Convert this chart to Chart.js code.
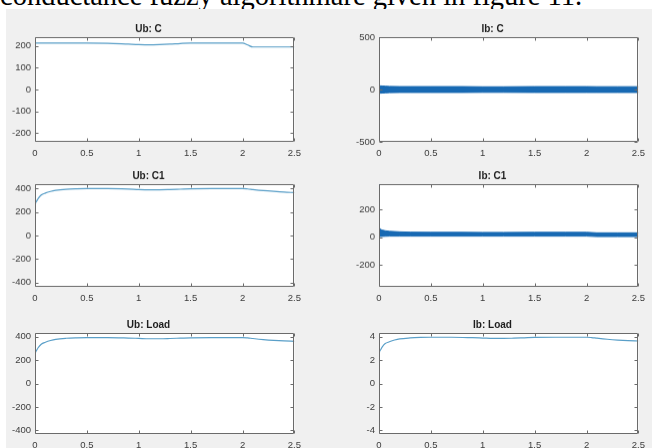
<!DOCTYPE html>
<html>
<head>
<meta charset="utf-8">
<script src="https://cdn.jsdelivr.net/npm/chart.js@4/dist/chart.umd.min.js"></script>
<style>
  html, body { margin: 0; padding: 0; width: 652px; height: 448px; overflow: hidden; background: #ffffff; position: relative; }
  #caption { position: absolute; left: 0px; top: -19px; font: 28.5px "Liberation Serif", "Times New Roman", serif; line-height: 30px; white-space: nowrap; color: #000; }
  #fig { position: absolute; left: 6px; top: 9px; width: 646px; height: 439px; background: #f0f0f0; }
  canvas { position: absolute; }
</style>
</head>
<body>
<div id="caption">conductance fuzzy algorithmare given in figure 11.</div>
<div id="fig"></div>
<canvas id="c0"></canvas><canvas id="c1"></canvas>
<canvas id="c2"></canvas><canvas id="c3"></canvas>
<canvas id="c4"></canvas><canvas id="c5"></canvas>
<script>
// ---------- data ----------
const titles = ['Ub: C', 'Ib: C', 'Ub: C1', 'Ib: C1', 'Ub: Load', 'Ib: Load'];
const xTicks = [0, 0.5, 1, 1.5, 2, 2.5];
const xTickLabels = ['0', '0.5', '1', '1.5', '2', '2.5'];

// time points for the smooth traces
const tU = [0, 0.003, 0.01, 0.03, 0.06, 0.1, 0.15, 0.2, 0.3, 0.4, 0.5, 0.7, 0.9, 1.0, 1.1, 1.2, 1.3, 1.4, 1.5, 1.7, 1.9, 2.0, 2.05, 2.1, 2.2, 2.3, 2.4, 2.5];
const ubC    = [0, 213, 213, 213, 213, 213, 213, 213, 213, 213, 213, 212, 208, 206, 205, 206, 208, 211, 213, 213, 213, 213, 204, 195, 195, 195, 195, 195];
const ubC1   = [0, 255, 285, 315, 345, 362, 376, 385, 394, 398, 400, 400, 396, 392, 390, 390, 392, 395, 398, 400, 400, 400, 397, 392, 383, 376, 370, 366];
const ubLoad = [0, 245, 275, 305, 335, 352, 367, 377, 386, 390, 392, 392, 388, 385, 382, 382, 384, 387, 390, 392, 392, 392, 389, 384, 375, 368, 363, 360];
const ibLoad = [0, 2.5, 2.8, 3.1, 3.4, 3.55, 3.7, 3.8, 3.88, 3.92, 3.94, 3.94, 3.9, 3.87, 3.84, 3.84, 3.86, 3.89, 3.92, 3.94, 3.94, 3.94, 3.91, 3.86, 3.77, 3.7, 3.65, 3.62];

// time points for the oscillating currents (drawn as envelope bands)
const tB = [0, 0.002, 0.006, 0.012, 0.03, 0.06, 0.1, 0.2, 0.3, 0.5, 0.8, 1.0, 1.2, 1.5, 1.8, 2.0, 2.1, 2.3, 2.5];
const ibCUpper  = [500, 60, 36, 35, 34, 32, 30, 28, 28, 28, 28, 26, 26, 28, 28, 28, 27, 27, 27];
const ibCLower  = [0, -34, -35, -35, -34, -32, -30, -28, -28, -28, -28, -27, -27, -28, -28, -28, -28, -28, -28];
const ibC1Upper = [385, 150, 70, 58, 52, 47, 43, 39, 37, 36, 36, 35, 35, 36, 36, 36, 32, 32, 32];
const ibC1Lower = [0, 0, 2, 5, 6, 7, 8, 8, 8, 8, 8, 8, 8, 8, 8, 8, 5, 5, 5];

// axis limits and tick values
const yLimits = [[-240, 240], [-500, 500], [-438, 438], [-360, 385], [-431, 431], [-4.3, 4.3]];
const yTicks = [
  [-200, -100, 0, 100, 200],
  [-500, 0, 500],
  [-400, -200, 0, 200, 400],
  [-200, 0, 200],
  [-400, -200, 0, 200, 400],
  [-4, -2, 0, 2, 4]
];

// ---------- layout ----------
const plotLeft = [35, 379];
const plotW = 262;
const rows = [[37.3, 141.7], [184.3, 286.7], [333.3, 434.3]];
const yAxisW = 35, titleH = 15, xAxisH = 18, rightPad = 10;

const lineColor = '#5a9fc8';
const bandColor = '#1769b3';

function pts(t, v) { return t.map((x, i) => ({ x: x, y: v[i] })); }

const framePlugin = {
  id: 'frame',
  beforeDraw(chart) {
    const a = chart.chartArea, ctx = chart.ctx;
    ctx.save();
    ctx.fillStyle = '#ffffff';
    ctx.fillRect(a.left, a.top, a.right - a.left, a.bottom - a.top);
    ctx.restore();
  },
  afterDraw(chart) {
    const a = chart.chartArea, ctx = chart.ctx;
    const xs = chart.scales.x, ys = chart.scales.y;
    ctx.save();
    ctx.strokeStyle = '#6b6b6b';
    ctx.lineWidth = 1;
    ctx.beginPath();
    const L = Math.round(a.left) + 0.5, R = Math.round(a.right) - 0.5;
    const T = Math.round(a.top) + 0.5, B = Math.round(a.bottom) - 0.5;
    ctx.rect(L, T, R - L, B - T);
    const tl = 3;
    xs.ticks.forEach(tk => {
      const px = Math.round(xs.getPixelForValue(tk.value)) + 0.5;
      ctx.moveTo(px, B); ctx.lineTo(px, B - tl);
      ctx.moveTo(px, T); ctx.lineTo(px, T + tl);
    });
    ys.ticks.forEach(tk => {
      const py = Math.round(ys.getPixelForValue(tk.value)) + 0.5;
      ctx.moveTo(L, py); ctx.lineTo(L + tl, py);
      ctx.moveTo(R, py); ctx.lineTo(R - tl, py);
    });
    ctx.stroke();
    ctx.restore();
  }
};

function datasetsFor(i) {
  if (i === 1 || i === 3) {
    const up = i === 1 ? ibCUpper : ibC1Upper;
    const lo = i === 1 ? ibCLower : ibC1Lower;
    return [
      { data: pts(tB, lo), borderColor: bandColor, borderWidth: 1, pointRadius: 0, fill: false, tension: 0 },
      { data: pts(tB, up), borderColor: bandColor, borderWidth: 1, pointRadius: 0, fill: '-1', backgroundColor: bandColor, tension: 0 }
    ];
  }
  const v = [ubC, null, ubC1, null, ubLoad, ibLoad][i];
  return [{ data: pts(tU, v), borderColor: lineColor, borderWidth: 1.2, pointRadius: 0, fill: false, cubicInterpolationMode: 'monotone' }];
}

for (let i = 0; i < 6; i++) {
  const col = i % 2, row = Math.floor(i / 2);
  const [top, bottom] = rows[row];
  const cv = document.getElementById('c' + i);
  const left = plotLeft[col] - yAxisW;
  const ctop = top - titleH;
  const w = yAxisW + plotW + rightPad;
  const h = titleH + (bottom - top) + xAxisH;
  cv.style.left = left + 'px';
  cv.style.top = ctop + 'px';
  cv.style.width = w + 'px';
  cv.style.height = h + 'px';
  cv.width = w; cv.height = h;
  const yt = yTicks[i];
  new Chart(cv, {
    type: 'line',
    data: { datasets: datasetsFor(i) },
    plugins: [framePlugin],
    options: {
      responsive: false,
      animation: false,
      events: [],
      layout: { padding: { left: 0, right: rightPad, top: 0, bottom: 0 } },
      plugins: {
        legend: { display: false },
        tooltip: { enabled: false },
        title: {
          display: true, text: titles[i], color: '#1e1e1e',
          font: { family: 'Liberation Sans, Arial, sans-serif', size: 10, weight: 'bold', lineHeight: 1.2 },
          padding: { top: 1, bottom: 2 }
        }
      },
      scales: {
        x: {
          type: 'linear', min: 0, max: 2.5,
          afterBuildTicks: s => { s.ticks = xTicks.map(v => ({ value: v })); },
          afterFit: s => { s.height = xAxisH; },
          grid: { display: false, drawTicks: false },
          border: { display: false },
          ticks: {
            padding: 6, color: '#3c3c3c', maxRotation: 0, autoSkip: false,
            font: { family: 'Liberation Sans, Arial, sans-serif', size: 9.5 },
            callback: v => { const k = xTicks.indexOf(v); return k >= 0 ? xTickLabels[k] : ''; }
          }
        },
        y: {
          type: 'linear', min: yLimits[i][0], max: yLimits[i][1],
          afterBuildTicks: s => { s.ticks = yt.map(v => ({ value: v })); },
          afterFit: s => { s.width = yAxisW; },
          grid: { display: false, drawTicks: false },
          border: { display: false },
          ticks: {
            padding: 4, color: '#3c3c3c', autoSkip: false,
            font: { family: 'Liberation Sans, Arial, sans-serif', size: 9.5 },
            callback: v => String(v)
          }
        }
      }
    }
  });
}
</script>
</body>
</html>
